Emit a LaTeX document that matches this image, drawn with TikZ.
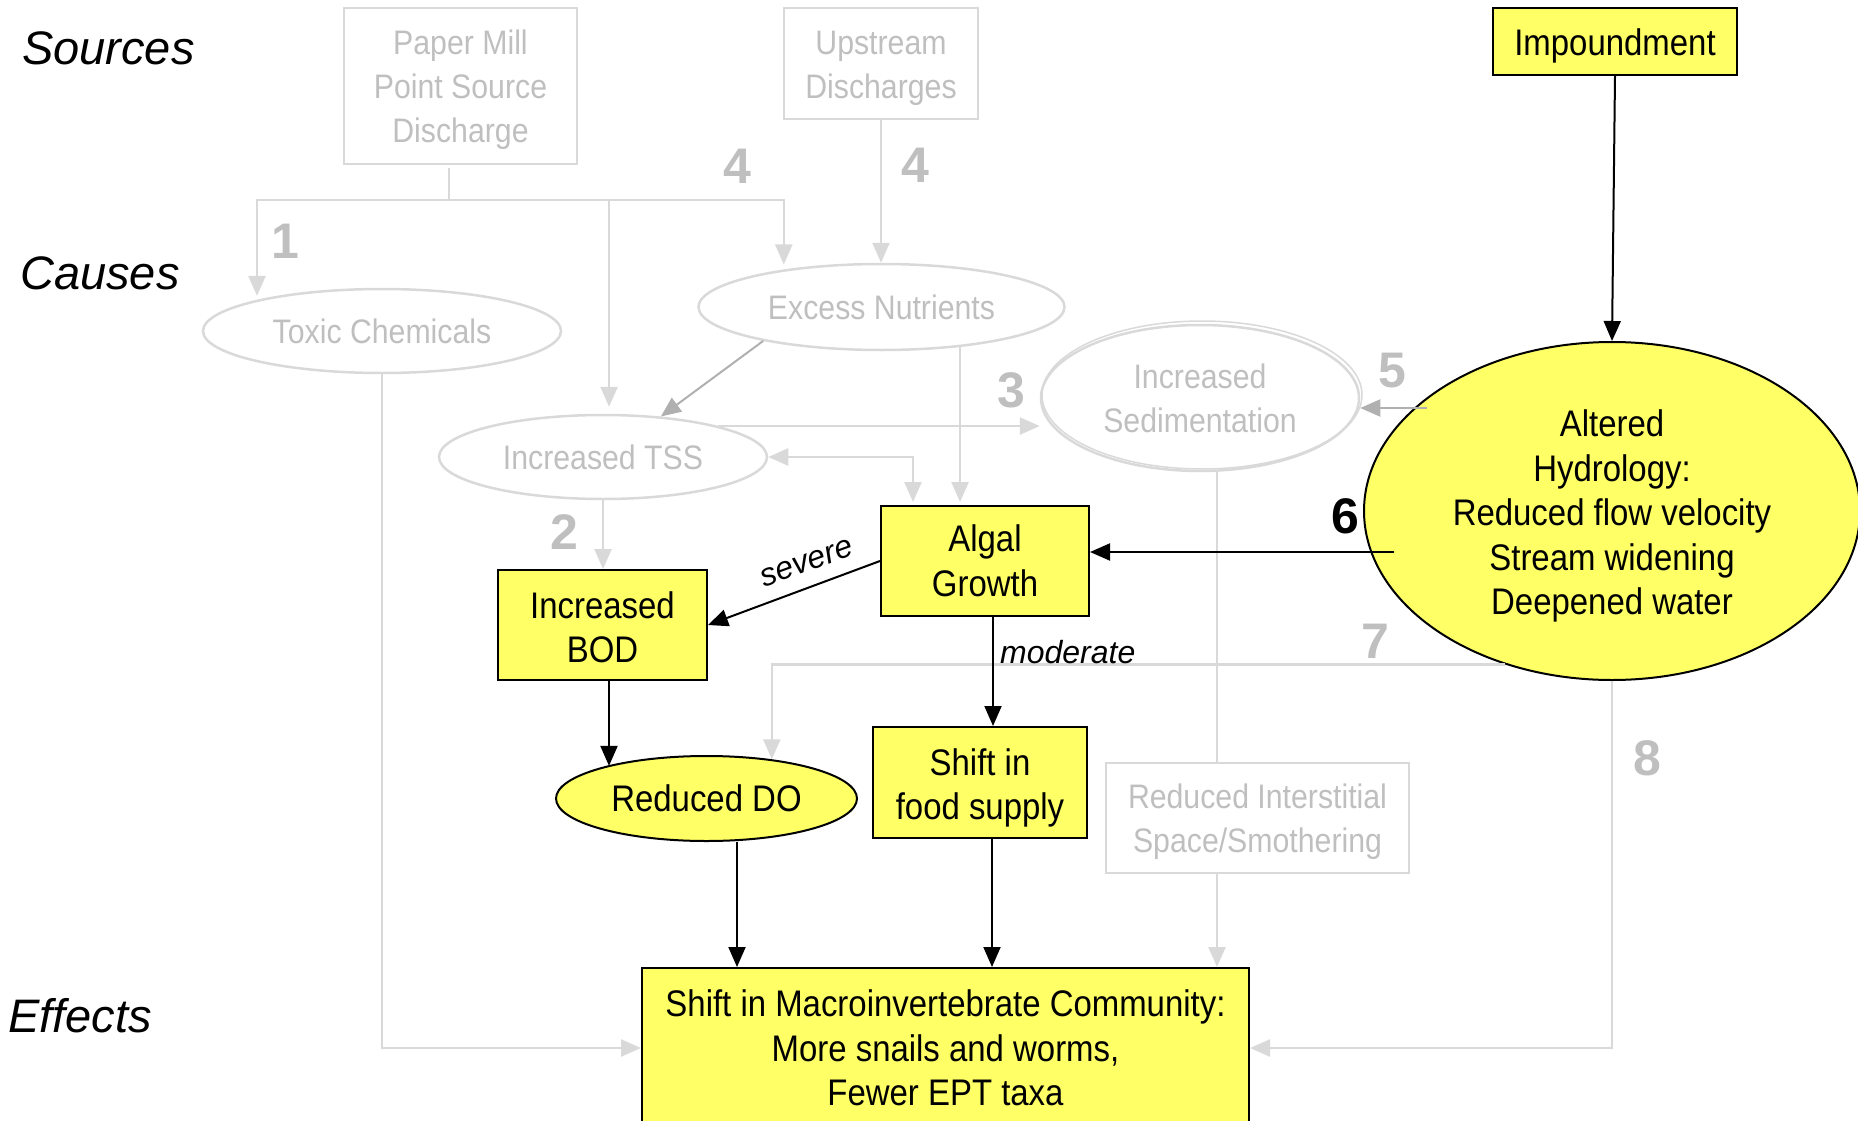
\documentclass[tikz,border=0pt]{standalone}
\usepackage{fontspec}
\setmainfont{Liberation Sans}
\newfontfamily\nar[FakeStretch=0.89]{Liberation Sans}
\usetikzlibrary{shapes.geometric,arrows.meta}
\definecolor{hy}{HTML}{FFFF66}
\definecolor{gl}{HTML}{D9D9D9}
\definecolor{gt}{HTML}{BFBFBF}
\definecolor{gm}{HTML}{B0B0B0}
% strut that lowers a centred text block by #1
\newcommand\lowerby[1]{\rule{0pt}{\dimexpr 27.5pt+2\dimexpr #1\relax\relax}}
\begin{document}
\begin{tikzpicture}[x=1pt,y=-1pt,
  >={Triangle[length=20pt,width=17pt]},
  box/.style={rectangle,draw=black,line width=2pt,fill=hy,inner sep=0pt,align=center,
    font=\nar\fontsize{37}{44.5}\selectfont},
  yell/.style={ellipse,draw=black,line width=2pt,fill=hy,inner sep=0pt,align=center,
    font=\nar\fontsize{37}{44.5}\selectfont},
  gbox/.style={rectangle,draw=gl,line width=2.5pt,inner sep=0pt,align=center,text=gt,
    font=\nar\fontsize{34}{44}\selectfont},
  gell/.style={ellipse,draw=gl,line width=2.5pt,inner sep=0pt,align=center,text=gt,
    font=\nar\fontsize{34}{44}\selectfont},
  rowlab/.style={inner sep=0pt,anchor=west,font=\itshape\fontsize{47}{56}\selectfont},
  lab/.style={inner sep=0pt,font=\itshape\fontsize{32}{38}\selectfont},
  num/.style={inner sep=0pt,text=gt,font=\bfseries\fontsize{50}{60}\selectfont},
  barr/.style={draw=black,line width=2pt,->},
  garr/.style={draw=gl,line width=2.5pt,->},
  darr/.style={draw=gm,line width=2pt,->},
  gline/.style={draw=gl,line width=2.5pt}]

\path[use as bounding box] (0,0) rectangle (1858,1121);
\clip (0,0) rectangle (1858,1121);

% row headings
\node[rowlab] (src) at (22,48) {Sources};
\node[rowlab] (cau) at (20,273) {Causes};
\node[rowlab] (efl) at (8,1016) {Effects};

% sources
\node[gbox,minimum width=233pt,minimum height=156pt] (pm) at (460.5,86) {\lowerby{2.5pt}Paper Mill\\Point Source\\Discharge};
\node[gbox,minimum width=194pt,minimum height=111pt] (up) at (881,63.5) {\lowerby{3pt}Upstream\\Discharges};
\node[box,minimum width=244pt,minimum height=67pt] (imp) at (1615,41.5) {\lowerby{4pt}Impoundment};

% causes
\node[gell,minimum width=358pt,minimum height=84pt] (tox) at (382,331) {Toxic Chemicals};
\node[gell,minimum width=366pt,minimum height=86pt] (nut) at (881.5,307) {Excess Nutrients};
\node[gell,minimum width=328pt,minimum height=84pt] (tss) at (603,457) {Increased TSS};
\node[gell,minimum width=318pt,minimum height=146pt] (sed) at (1200,398) {Increased\\Sedimentation};
\draw[gl,line width=1.5pt] (1202,395) ellipse [x radius=160pt,y radius=74pt];
\node[yell,minimum width=496pt,minimum height=338pt] (alt) at (1612,511)
  {\lowerby{5pt}Altered\\Hydrology:\\Reduced flow velocity\\Stream widening\\Deepened water};

% intermediate effects
\node[box,minimum width=208pt,minimum height=110pt] (alg) at (985,561) {Algal\\Growth};
\node[box,minimum width=209pt,minimum height=110pt] (bod) at (602.5,625) {\lowerby{2pt}Increased\\BOD};
\node[yell,minimum width=301pt,minimum height=85pt] (do) at (706.5,798.5) {Reduced DO};
\node[box,minimum width=214pt,minimum height=111pt] (food) at (980,782.5) {\lowerby{5pt}Shift in\\food supply};
\node[gbox,minimum width=303pt,minimum height=110pt] (ri) at (1257.5,818) {\lowerby{2pt}Reduced Interstitial\\Space/Smothering};

% final effect
\node[box,minimum width=607pt,minimum height=160pt] (eff) at (945.5,1048)
  {Shift in Macroinvertebrate Community:\\More snails and worms,\\Fewer EPT taxa};

% grey pathways
\coordinate (pmj) at (449,168);
\coordinate (junc) at (449,200);
\draw[gline] (pmj) -- (junc);
\draw[garr,shorten >=4pt] (junc) -| (tox.166.5);
\draw[garr,shorten >=7pt] (junc) -| (tss.82);
\draw[garr,shorten >=5pt] (junc) -| (nut.159.4);
\draw[garr] (up.south) -- (up.south |- nut.north);
\draw[darr] (nut.196.6) -- (tss.35);
\draw[garr,shorten >=3pt] (nut.333.8) -- (nut.333.8 |- alg.north);
\draw[garr,<->,shorten >=3pt] (tss.east) -| ([xshift=-72pt]alg.north);
\draw[garr] (tss.15.6) -- (tss.15.6 -| sed.west);
\draw[garr] (tss.south) -- (tss.south |- bod.north);
\draw[garr] (tox.south) |- (eff.west);
\coordinate (sedx) at (1217,0);
\draw[gline] (sedx |- sed.south) -- (sedx |- ri.north);
\draw[garr] (sedx |- ri.south) -- (sedx |- eff.north);
\draw[garr] (alt.235.5) -| (do.31);
\draw[garr] (alt.south) |- (eff.east);
\coordinate (h5) at (1427,408);
\draw[darr] (h5) -- (h5 -| sed.east);

% black pathways
\draw[barr] (imp.south) -- (alt.north);
\coordinate (h6) at (1394,552);
\draw[barr] (h6) -- (h6 -| alg.east);
\draw[barr] (alg.west) -- (bod.east);
\draw[barr] ([xshift=8pt]alg.south) -- ([xshift=13pt]food.north);
\draw[barr] ([xshift=6.5pt]bod.south) -- ([xshift=6.5pt]bod.south |- do.162);
\draw[barr] ([xshift=30.5pt]do.south) -- ([xshift=30.5pt]do.south |- eff.north);
\draw[barr] ([xshift=12pt]food.south) -- ([xshift=12pt]food.south |- eff.north);

% connector labels
\node[lab,rotate=20] (sev) at (807,563) {severe};
\node[lab,anchor=west] (mod) at (1000,652) {moderate};

% pathway numbers
\node[num] (n1) at (285,241) {1};
\node[num] (n2) at (564,532) {2};
\node[num] (n3) at (1011,390) {3};
\node[num] (n4a) at (737,166) {4};
\node[num] (n4b) at (915,165) {4};
\node[num] (n5) at (1392,371) {5};
\node[num,text=black] (n6) at (1345,516) {6};
\node[num] (n7) at (1375,641) {7};
\node[num] (n8) at (1647,758) {8};
\end{tikzpicture}
\end{document}
